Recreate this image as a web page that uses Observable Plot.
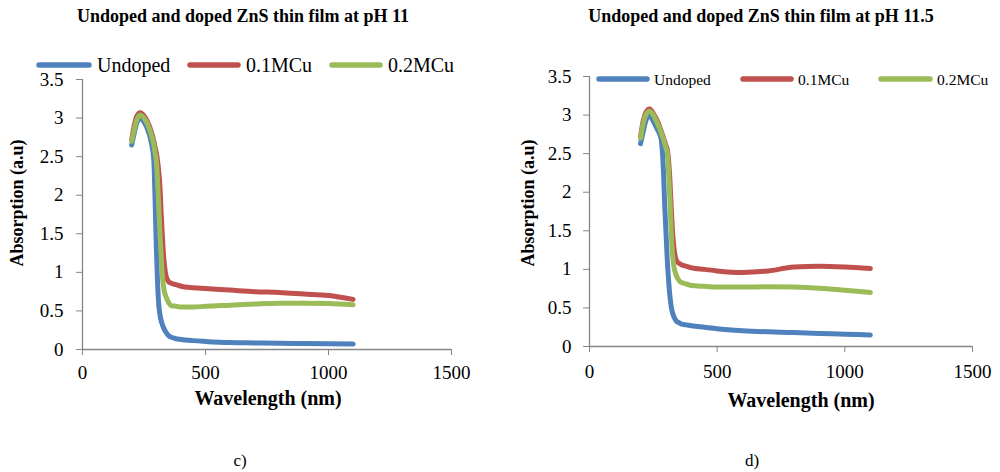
<!DOCTYPE html>
<html><head><meta charset="utf-8">
<script src="https://cdn.jsdelivr.net/npm/d3@7"></script>
<script src="https://cdn.jsdelivr.net/npm/@observablehq/plot@0.6"></script>
<style>
body{margin:0;background:#fff;}
#wrap{position:relative;width:1000px;height:472px;overflow:hidden;background:#fff;font-family:"Liberation Serif","Times New Roman",serif;}
#wrap > svg{position:absolute;top:0;}
</style></head><body><div id="wrap"></div>
<script>
// ---- data ----
const wavelength = [200,210,220,235,250,265,280,290,295,300,305,310,315,320,325,330,340,350,360,380,400,450,500,600,700,800,900,1000,1100];
const seriesNames = ["Undoped","0.1MCu","0.2MCu"];
const seriesColors = ["#4F81BD","#C0504D","#9BBB59"];

const undoped_pH11  = [2.65,2.80,2.93,3.00,2.95,2.85,2.68,2.45,1.95,1.35,0.88,0.58,0.45,0.37,0.32,0.28,0.22,0.18,0.16,0.14,0.13,0.115,0.105,0.09,0.085,0.08,0.078,0.075,0.07];
const cu01_pH11     = [2.72,2.90,3.02,3.07,3.03,2.95,2.82,2.70,2.62,2.55,2.45,2.30,2.10,1.75,1.45,1.20,0.95,0.88,0.86,0.84,0.82,0.80,0.79,0.77,0.75,0.74,0.72,0.70,0.65];
const cu02_pH11     = [2.70,2.85,2.97,3.04,3.00,2.92,2.78,2.65,2.55,2.45,2.20,1.85,1.50,1.20,0.95,0.80,0.68,0.61,0.57,0.56,0.55,0.55,0.56,0.575,0.59,0.60,0.60,0.595,0.58];

const undoped_pH115 = [2.63,2.78,2.92,3.00,2.92,2.82,2.70,2.25,1.80,1.45,1.10,0.85,0.65,0.52,0.44,0.39,0.33,0.31,0.29,0.28,0.27,0.25,0.23,0.205,0.19,0.18,0.17,0.16,0.15];
const cu01_pH115    = [2.72,2.92,3.03,3.08,3.02,2.93,2.80,2.70,2.65,2.60,2.55,2.40,2.15,1.80,1.50,1.30,1.12,1.08,1.06,1.04,1.02,1.00,0.98,0.96,0.98,1.03,1.04,1.03,1.01];
const cu02_pH115    = [2.70,2.88,3.00,3.05,3.00,2.90,2.78,2.68,2.62,2.57,2.50,2.25,1.90,1.50,1.20,1.05,0.92,0.86,0.83,0.81,0.79,0.78,0.77,0.77,0.775,0.77,0.755,0.73,0.70];

const xTicks = [0,500,1000,1500];
const yTicks = [0,0.5,1,1.5,2,2.5,3,3.5];
const panelTitles = ["Undoped and doped ZnS thin film at pH 11","Undoped and doped ZnS thin film at pH 11.5"];
const panelCaptions = ["c)","d)"];
const xLabel = "Wavelength (nm)";
const yLabel = "Absorption (a.u)";

const FONT = '"Liberation Serif","Times New Roman",serif';
const AXIS = "#868686";

function makePanel(valuesList, m) {
  const data = seriesNames.flatMap((s, i) =>
    wavelength.map((w, j) => ({series: s, wavelength: w, absorption: valuesList[i][j]})));
  return Plot.plot({
    width: 500, height: 472,
    marginLeft: m.l, marginRight: m.r, marginTop: m.t, marginBottom: m.b,
    style: {fontFamily: FONT, fontSize: "19px", background: "transparent", color: "black", overflow: "visible"},
    x: {domain: [0, 1500]},
    y: {domain: [0, 3.5]},
    color: {domain: seriesNames, range: seriesColors},
    marks: [
      Plot.axisX({ticks: xTicks, tickSize: 6, tickPadding: m.xp, stroke: AXIS, fill: "black", tickFormat: d => String(d), label: null}),
      Plot.axisY({ticks: yTicks, tickSize: 6, tickPadding: m.yp, stroke: AXIS, fill: "black", tickFormat: d => String(d), label: null}),
      Plot.ruleY([0], {stroke: AXIS, strokeWidth: 1.3}),
      Plot.ruleX([0], {stroke: AXIS, strokeWidth: 1.3}),
      Plot.line(data, {x: "wavelength", y: "absorption", z: "series", stroke: "series",
        strokeWidth: 5, curve: "monotone-x", strokeLinecap: "round", strokeLinejoin: "round"})
    ]
  });
}

const wrap = document.getElementById("wrap");
const left = makePanel([undoped_pH11, cu01_pH11, cu02_pH11], {l: 82, r: 49, t: 79, b: 123, xp: 10, yp: 13});
left.style.left = "0px";
wrap.appendChild(left);
const right = makePanel([undoped_pH115, cu01_pH115, cu02_pH115], {l: 89, r: 28, t: 76, b: 126, xp: 12, yp: 12});
right.style.left = "500px";
wrap.appendChild(right);

// ---- overlay: titles, legends, axis titles, captions ----
const ov = d3.select(wrap).append("svg")
  .attr("width", 1000).attr("height", 472)
  .style("left", "0px").style("font-family", FONT);

const panels = [
  {title: [243, 22], legY: 65, legSize: 20, legBase: 72,
   legLines: [[39, 89], [190, 238], [332, 380]], legText: [97, 246, 388],
   xt: [268, 405], yt: [23, 203], cap: [240, 466]},
  {title: [761, 22], legY: 79, legSize: 15.5, legBase: 84.5,
   legLines: [[599, 647], [743, 791], [881, 930]], legText: [654, 798, 937],
   xt: [801, 407], yt: [534, 203], cap: [752, 466]}
];

panels.forEach((p, k) => {
  ov.append("text").attr("x", p.title[0]).attr("y", p.title[1])
    .attr("text-anchor", "middle").attr("font-weight", "bold").attr("font-size", 18)
    .text(panelTitles[k]);
  seriesNames.forEach((s, i) => {
    ov.append("line").attr("x1", p.legLines[i][0]).attr("x2", p.legLines[i][1])
      .attr("y1", p.legY).attr("y2", p.legY)
      .attr("stroke", seriesColors[i]).attr("stroke-width", 5.5).attr("stroke-linecap", "round");
    ov.append("text").attr("x", p.legText[i]).attr("y", p.legBase)
      .attr("font-size", p.legSize).text(s);
  });
  ov.append("text").attr("x", p.xt[0]).attr("y", p.xt[1])
    .attr("text-anchor", "middle").attr("font-weight", "bold").attr("font-size", 20)
    .text(xLabel);
  ov.append("text").attr("transform", `translate(${p.yt[0]},${p.yt[1]}) rotate(-90)`)
    .attr("text-anchor", "middle").attr("font-weight", "bold").attr("font-size", 18)
    .text(yLabel);
  ov.append("text").attr("x", p.cap[0]).attr("y", p.cap[1])
    .attr("text-anchor", "middle").attr("font-size", 17)
    .text(panelCaptions[k]);
});
</script>
</body></html>
